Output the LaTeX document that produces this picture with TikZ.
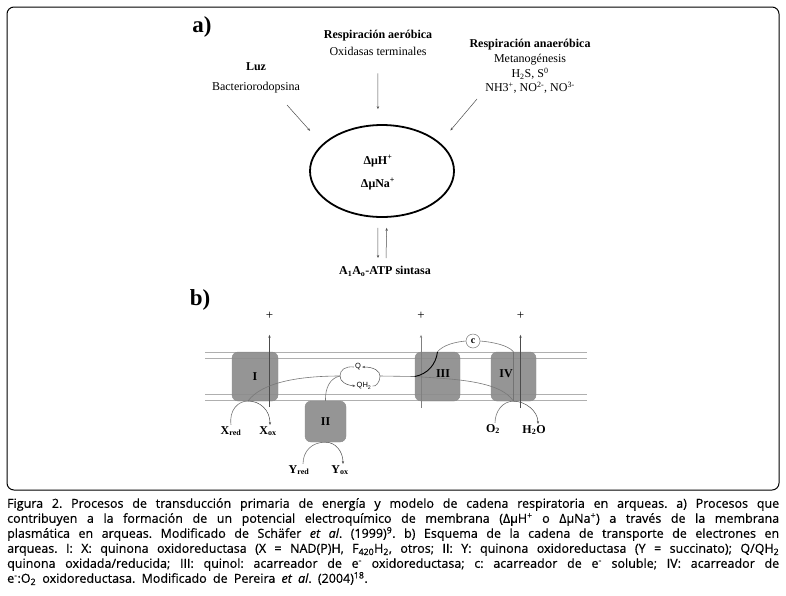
\documentclass[tikz,border=0pt]{standalone}
\usepackage{fontspec}
\usepackage{xcolor}
\usepackage{tikz}
\usetikzlibrary{shapes.geometric, arrows.meta}
\setmainfont{Liberation Serif}
\newfontfamily\capfont[FakeBold=0.5]{Open Sans}
\newfontfamily\sansfont{Liberation Sans}
\definecolor{complexgray}{RGB}{140,140,140}
\definecolor{linegray}{RGB}{120,120,120}
\definecolor{membranegray}{RGB}{175,175,175}

\begin{document}
\begin{tikzpicture}[
  x=1pt, y=-1pt,
  panel/.style={font=\bfseries\fontsize{23}{26}\selectfont, inner sep=0pt},
  head/.style={font=\bfseries\fontsize{12}{14}\selectfont, inner sep=1pt},
  body/.style={font=\fontsize{12}{14}\selectfont, inner sep=1pt},
  small/.style={font=\bfseries\fontsize{12}{14}\selectfont, inner sep=1pt},
  plus/.style={font=\fontsize{13}{14}\selectfont, inner sep=1pt},
  quinona/.style={font=\sansfont\fontsize{7.5}{9}\selectfont, inner sep=1pt},
  complex/.style={rectangle, rounded corners=6pt, fill=complexgray, fill opacity=.92,
                  draw=complexgray, text opacity=1, font=\bfseries\fontsize{12}{14}\selectfont, inner sep=0pt},
  arrow/.style={-{Stealth[length=3pt, width=2.4pt]}, line width=.5pt, color=black!70},
  path/.style={line width=.6pt, color=linegray},
  membrane/.style={line width=.7pt, color=membranegray},
  caption/.style={font=\capfont\fontsize{12.5}{15}\selectfont, text width=772pt, align=justify, inner sep=0pt}
]
\useasboundingbox (0,0) rectangle (786,595);
\draw[line width=1pt, rounded corners=7pt] (7,7) rectangle (779,490);

% a)
\node[panel] (panela) at (202,27) {a)};
\node[head] (aerobica) at (378,36) {Respiración aeróbica};
\node[body] (oxidasas) at (378,51) {Oxidasas terminales};
\node[head] (luz) at (256,67) {Luz};
\node[body] (bacterio) at (256,88) {Bacteriorodopsina};
\node[head] (anaerobica) at (530,45) {Respiración anaeróbica};
\node[body] (metano) at (530,60) {Metanogénesis};
\node[body] (azufre) at (530,74) {H\textsubscript{2}S, S\textsuperscript{0}};
\node[body] (nitro) at (530,88) {NH3\textsuperscript{+}, NO\textsuperscript{2-}, NO\textsuperscript{3-}};
\node[ellipse, draw, line width=1.8pt, minimum width=144pt, minimum height=92pt, inner sep=0pt] (gradiente) at (382,171) {};
\node[small] (muH) at (378,161) {ΔμH\textsuperscript{+}};
\node[small] (muNa) at (378,184) {ΔμNa\textsuperscript{+}};
\node[small] (sintasa) at (385,271) {A\textsubscript{1}A\textsubscript{o}-ATP sintasa};

\coordinate (luzini) at (287,105);
\coordinate (anaeroini) at (477,99);
\coordinate (bajafin) at (378,258);
\coordinate (subeini) at (386,258);

\draw[arrow, shorten >=18pt] (luzini) -- (gradiente.156.6);
\draw[arrow, shorten <=17pt, shorten >=15pt] (oxidasas) -- (gradiente.95);
\draw[arrow, shorten >=16pt] (anaeroini) -- (gradiente.26);
\draw[arrow, shorten <=10pt] (gradiente.265) -- (bajafin);
\draw[arrow, shorten >=10pt] (subeini) -- (gradiente.-84);

% b)
\node[panel] (panelb) at (200,300) {b)};
\foreach \y in {352,358,394,400}
  \draw[membrane] (205,\y) -- (587,\y);

\node[complex, minimum width=46pt, minimum height=49pt] (I) at (255,376.5) {I};
\node[complex, minimum width=41pt, minimum height=41pt] (II) at (325.5,421.5) {II};
\node[complex, minimum width=45pt, minimum height=49pt] (III) at (437.5,376.5) {};
\node[complex, minimum width=45pt, minimum height=49pt] (IV) at (513.5,376.5) {};
\node[small] (labelIII) at (443,374) {III};
\node[small] (labelIV) at (506,374) {IV};

\node[plus] (plusI) at (269.5,316) {+};
\node[plus] (plusIII) at (421,316) {+};
\node[plus] (plusIV) at (520.5,316) {+};
\node[quinona] (Q) at (358,367) {Q};
\node[quinona] (QH) at (364,386) {QH\textsubscript{2}};
\node[circle, draw=linegray, fill=white, line width=.5pt, minimum size=14pt, inner sep=0pt, font=\bfseries\fontsize{10}{11}\selectfont] (c) at (473,341) {c};

\node[small] (Xred) at (231,431) {X\textsubscript{red}};
\node[small] (Xox) at (268,431) {X\textsubscript{ox}};
\node[small] (Yred) at (299,470) {Y\textsubscript{red}};
\node[small] (Yox) at (340,470) {Y\textsubscript{ox}};
\node[small] (Odos) at (493,429) {O\textsubscript{2}};
\node[small] (Hagua) at (534,430) {H\textsubscript{2}O};

\coordinate (salidaI) at (248,401);
\coordinate (qizq) at (340,376);
\coordinate (qder) at (380,376);
\coordinate (baseI) at (269.5,407);
\coordinate (baseIII) at (421,408);
\coordinate (baseIV) at (520.5,408);

% protones
\draw[arrow, shorten >=14pt] (baseI) -- (plusI);
\draw[arrow, color=black!50, shorten >=14pt] (baseIII) -- (plusIII);
\draw[arrow, shorten >=14pt] (baseIV) -- (plusIV);

% electrones
\draw[path] (salidaI) .. controls (262,382) and (300,376) .. (qizq);
\draw[path] (II.north) .. controls (325,388) and (330,378) .. (qizq);
\draw[path] (qder) -- (III.west);
\draw[path] (III.west) .. controls (450,379) and (500,380) .. (IV.south);
\draw[line width=.9pt] (III.west) .. controls (428,374) and (436,364) .. (III.north);
\draw[path] (III.north) .. controls (443,345) and (455,342) .. (c.west);
\draw[path] (c.east) .. controls (492,342) and (508,345) .. (IV.north);
\draw[path, color=black!55] (IV.north) -- (IV.south);

% ciclo Q
\draw[path] (Q.west) .. controls (345,366) and (340,370) .. (qizq);
\draw[arrow] (qizq) .. controls (340,381) and (345,385) .. (QH.west);
\draw[path] (QH.east) .. controls (376,387) and (380,382) .. (qder);
\draw[arrow] (qder) .. controls (380,371) and (374,367) .. (Q.east);

% sustratos
\draw[path] (Xred.north) .. controls (229,410) and (238,401) .. (salidaI);
\draw[arrow] (salidaI) .. controls (260,401) and (270,410) .. ([xshift=2pt]Xox.north);
\draw[path] ([xshift=4pt]Yred.north) .. controls (303,451) and (312,442) .. (II.south);
\draw[arrow] (II.south) .. controls (335,442) and (343,451) .. ([xshift=3pt]Yox.north);
\draw[path] ([xshift=2pt]Odos.north) .. controls (495,411) and (503,401) .. (IV.south);
\draw[arrow] (IV.south) .. controls (525,401) and (538,411) .. ([xshift=4pt]Hagua.north);

\node[caption, anchor=north west] (leyenda) at (7,498) {\frenchspacing\spaceskip=.5em plus .4em minus .25em
Figura 2. Procesos de transducción primaria de energía y modelo de cadena respiratoria en arqueas. a) Procesos que\linebreak
contribuyen a la formación de un potencial electroquímico de membrana (ΔμH\textsuperscript{+} o ΔμNa\textsuperscript{+}) a través de la membrana\linebreak
plasmática en arqueas. Modificado de Schäfer \textit{et al}. (1999)\textsuperscript{9}. b) Esquema de la cadena de transporte de electrones en\linebreak
arqueas. I: X: quinona oxidoreductasa (X = NAD(P)H, F\textsubscript{420}H\textsubscript{2}, otros; II: Y: quinona oxidoreductasa (Y = succinato); Q/QH\textsubscript{2}\linebreak
quinona oxidada/reducida; III: quinol: acarreador de e\textsuperscript{-} oxidoreductasa; c: acarreador de e\textsuperscript{-} soluble; IV: acarreador de\linebreak
e\textsuperscript{-}:O\textsubscript{2} oxidoreductasa. Modificado de Pereira \textit{et al}. (2004)\textsuperscript{18}.};

\end{tikzpicture}
\end{document}
